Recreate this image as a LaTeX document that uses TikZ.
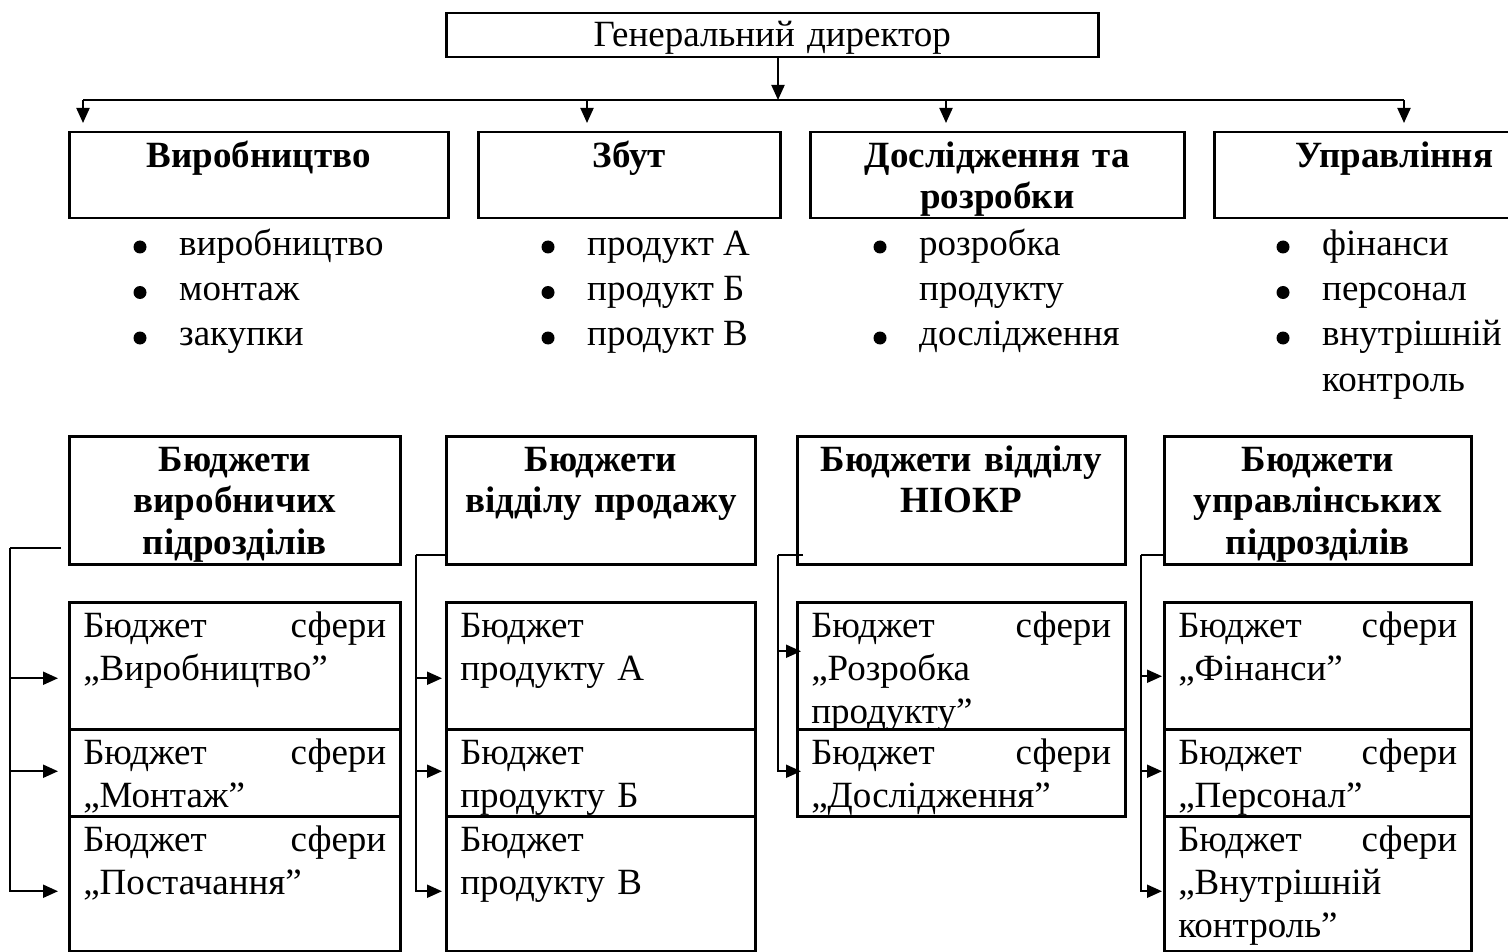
\documentclass[tikz,border=0pt]{standalone}
\usepackage{fontspec}
\setmainfont{Liberation Serif}
\usetikzlibrary{arrows.meta}

\begin{document}
\begin{tikzpicture}[x=1pt, y=-1pt,
        >={Triangle[length=15pt,width=13pt]},
        box/.style={draw, line width=2.5pt, inner ysep=0pt, anchor=north west},
        head/.style={box, inner xsep=0pt, align=center, font=\fontsize{37}{41.5}\selectfont},
        ttl/.style={head, font=\bfseries\fontsize{37}{41.5}\selectfont},
        sub/.style={box, inner xsep=14pt, align=left, text height=35.5pt, font=\fontsize{37}{43}\selectfont},
        lst/.style={anchor=base west, inner sep=0pt, font=\fontsize{37}{45.5}\selectfont},
        conn/.style={line width=2pt}]
        \useasboundingbox (0,0) rectangle (1508,952);

        % top level
        \node[head, text width=652pt, text height=33pt, text depth=11pt] (gd) at (445,12) {Генеральний директор};

        \node[ttl, text width=379pt, text height=35pt, text depth=51pt] (prod) at (68,131) {Виробництво};
        \node[ttl, text width=302pt, text height=35pt, text depth=51pt] (sales) at (477,131) {Збут};
        \node[ttl, text width=374pt, text height=35pt, text depth=51pt] (rnd) at (809,131) {Дослідження та\\розробки};
        \node[ttl, text width=360pt, text height=35pt, text depth=51pt] (mgmt) at (1213,131) {Управління};

        \coordinate (bus) at (778,100);
        \coordinate (b1) at (83,100);
        \coordinate (b2) at (587,100);
        \coordinate (b3) at (946,100);
        \coordinate (b4) at (1404,100);

        \draw[conn, ->] (gd.south -| bus) -- (bus);
        \draw[conn] (b1) -- (b4);
        \draw[conn, ->, shorten >=8pt] (b1) -- (prod.north -| b1);
        \draw[conn, ->, shorten >=8pt] (b2) -- (sales.north -| b2);
        \draw[conn, ->, shorten >=8pt] (b3) -- (rnd.north -| b3);
        \draw[conn, ->, shorten >=8pt] (b4) -- (mgmt.north -| b4);

        % lists
        \node[lst] (lprod) at (179,255) {\begin{tabular}[t]{@{}l@{}}виробництво\\ монтаж\\ закупки\end{tabular}};
        \node[lst] (lsales) at (587,255) {\begin{tabular}[t]{@{}l@{}}продукт А\\ продукт Б\\ продукт В\end{tabular}};
        \node[lst] (lrnd) at (919,255) {\begin{tabular}[t]{@{}l@{}}розробка\\ продукту\\ дослідження\end{tabular}};
        \node[lst] (lmgmt) at (1322,255) {\begin{tabular}[t]{@{}l@{}}фінанси\\ персонал\\ внутрішній\\ контроль\end{tabular}};

        \foreach \bx in {140,548,1283}
            \foreach \by in {247,292.5,338}
                \fill (\bx,\by) circle (6.5);
        \fill (880,247) circle (6.5);
        \fill (880,338) circle (6.5);

        % budgets
        \node[ttl, text width=331pt, text height=35pt, text depth=93pt] (hdrA) at (68,435) {Бюджети\\виробничих\\підрозділів};
        \node[ttl, text width=309pt, text height=35pt, text depth=93pt] (hdrB) at (445,435) {Бюджети\\відділу продажу};
        \node[ttl, text width=328pt, text height=35pt, text depth=93pt] (hdrC) at (796,435) {Бюджети відділу\\НІОКР};
        \node[ttl, text width=307pt, text height=35pt, text depth=93pt] (hdrD) at (1163,435) {Бюджети\\управлінських\\підрозділів};

        \node[sub, text width=303pt, text depth=91.5pt] (subAa) at (68,601) {Бюджет\hfill сфери\\„Виробництво”};
        \node[sub, text width=303pt, text depth=51.5pt] (subAb) at (68,728) {Бюджет\hfill сфери\\„Монтаж”};
        \node[sub, text width=303pt, text depth=99.5pt] (subAc) at (68,815) {Бюджет\hfill сфери\\„Постачання”};

        \node[sub, text width=281pt, text depth=91.5pt] (subBa) at (445,601) {Бюджет\\продукту А};
        \node[sub, text width=281pt, text depth=51.5pt] (subBb) at (445,728) {Бюджет\\продукту Б};
        \node[sub, text width=281pt, text depth=99.5pt] (subBc) at (445,815) {Бюджет\\продукту В};

        \node[sub, text width=300pt, text depth=91.5pt] (subCa) at (796,601) {Бюджет\hfill сфери\\„Розробка\\продукту”};
        \node[sub, text width=300pt, text depth=51.5pt] (subCb) at (796,728) {Бюджет\hfill сфери\\„Дослідження”};

        \node[sub, text width=279pt, text depth=91.5pt] (subDa) at (1163,601) {Бюджет\hfill сфери\\„Фінанси”};
        \node[sub, text width=279pt, text depth=51.5pt] (subDb) at (1163,728) {Бюджет\hfill сфери\\„Персонал”};
        \node[sub, text width=279pt, text depth=99.5pt] (subDc) at (1163,815) {Бюджет\hfill сфери\\„Внутрішній\\контроль”};

        \coordinate (v1) at (10,548);
        \coordinate (v2) at (416,555);
        \coordinate (v3) at (778,555);
        \coordinate (v4) at (1141,555);

        \draw[conn] ([xshift=-7pt]hdrA.south west |- v1) -- (v1);
        \draw[conn, ->, shorten >=10pt] (v1) |- ([yshift=-7.5pt]subAc.west);
        \draw[conn, ->, shorten >=10pt] ([yshift=-12.5pt]subAa.west -| v1) -- ([yshift=-12.5pt]subAa.west);
        \draw[conn, ->, shorten >=10pt] ([yshift=1.5pt]subAb.west -| v1) -- ([yshift=1.5pt]subAb.west);

        \draw[conn] (hdrB.south west |- v2) -- (v2);
        \draw[conn, ->, shorten >=3pt] (v2) |- ([yshift=-7.5pt]subBc.west);
        \draw[conn, ->, shorten >=3pt] ([yshift=-12.5pt]subBa.west -| v2) -- ([yshift=-12.5pt]subBa.west);
        \draw[conn, ->, shorten >=3pt] ([yshift=1.5pt]subBb.west -| v2) -- ([yshift=1.5pt]subBb.west);

        \draw[conn] ([xshift=7pt]hdrC.south west |- v3) -- (v3);
        \draw[conn, ->, shorten >=-5pt] (v3) |- ([yshift=1.5pt]subCb.west);
        \draw[conn, ->, shorten >=-5pt] ([yshift=14.5pt]subCa.west -| v3) -- ([yshift=14.5pt]subCa.west);

        \draw[conn] (hdrD.south west |- v4) -- (v4);
        \draw[conn, ->, shorten >=1pt] (v4) |- ([yshift=-7.5pt]subDc.west);
        \draw[conn, ->, shorten >=1pt] ([yshift=-10.5pt]subDa.west -| v4) -- ([yshift=-10.5pt]subDa.west);
        \draw[conn, ->, shorten >=1pt] ([yshift=1.5pt]subDb.west -| v4) -- ([yshift=1.5pt]subDb.west);
\end{tikzpicture}
\end{document}
